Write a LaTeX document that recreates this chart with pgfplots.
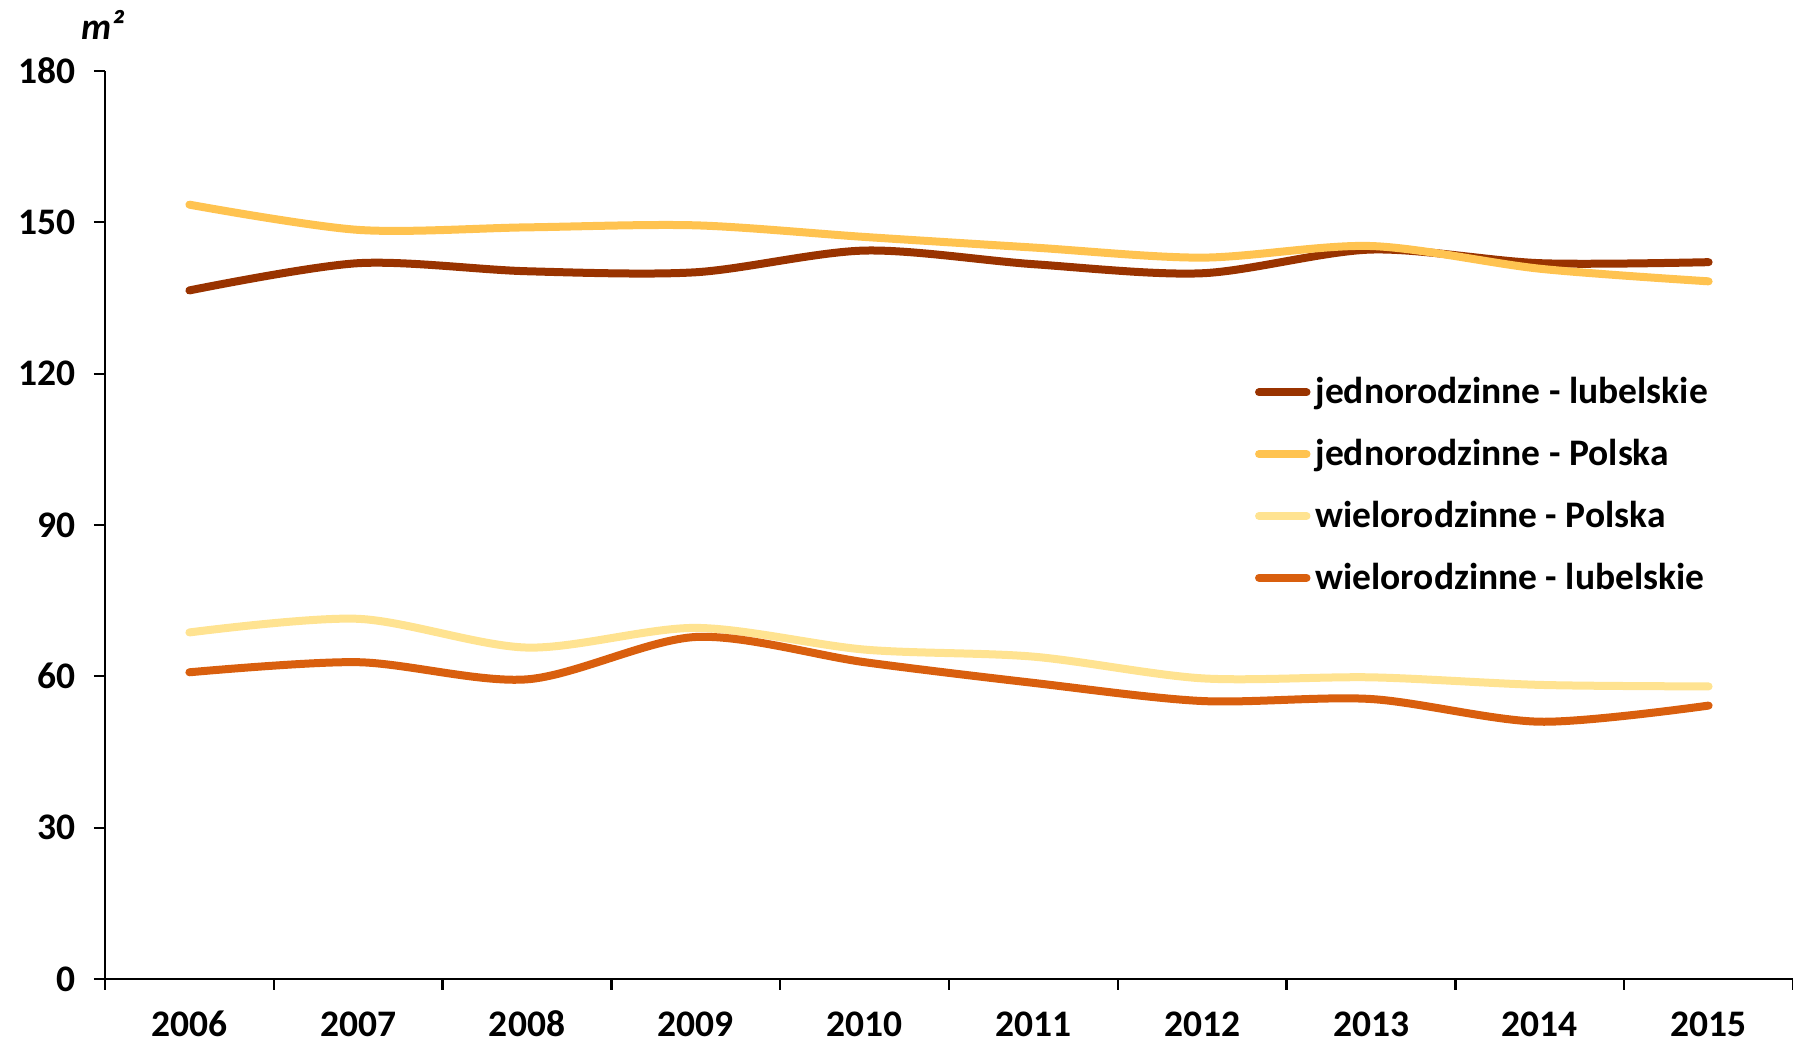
\documentclass[border=0pt]{standalone}
\usepackage{pgfplots}
\pgfplotsset{compat=1.18}
\usepackage{fontspec}
\setmainfont{Carlito}
\definecolor{brJL}{RGB}{153,51,0}
\definecolor{yeJP}{RGB}{255,195,80}
\definecolor{ltWP}{RGB}{255,227,145}
\definecolor{orWL}{RGB}{217,95,14}
\begin{document}
\begin{tikzpicture}
\begin{axis}[
    scale only axis, width=675.2pt, height=363.2pt, clip=false,
    font=\fontsize{15}{18}\selectfont\bfseries,
    /pgf/number format/assume math mode=true,
    axis lines=left, axis line style={-, line width=0.9pt},
    xmin=-0.5, xmax=9.5, ymin=0, ymax=180,
    xtick={-0.5,0.5,1.5,2.5,3.5,4.5,5.5,6.5,7.5,8.5,9.5},
    x tick label as interval,
    xticklabels={2006,2007,2008,2009,2010,2011,2012,2013,2014,2015},
    ytick={0,30,60,90,120,150,180},
    tick align=outside, major tick length=4.4pt,
    tick style={black, line width=0.9pt},
    xticklabel style={anchor=north, text height=10pt, text depth=1pt, yshift=-5pt},
    yticklabel style={xshift=-4pt},
    legend cell align=left,
    legend style={draw=none, fill=none, inner sep=0pt,
        at={(rel axis cs:0.681,0.544)}, anchor=west,
        row sep=8.7pt, font=\fontsize{15}{18}\selectfont\bfseries},
    legend image code/.code={\draw[#1, line width=3.2pt, line cap=round] (0pt,0pt) -- (19pt,0pt);},
    every axis plot/.append style={line width=3.2pt, line cap=round, smooth, tension=0.5, no marks},
]
\addplot[brJL] coordinates {(0,136.5) (1,141.9) (2,140.3) (3,140.1) (4,144.4) (5,141.7) (6,139.9) (7,144.6) (8,141.9) (9,142.1)};
\addlegendentry{jednorodzinne - lubelskie}
\addplot[yeJP] coordinates {(0,153.5) (1,148.5) (2,149.0) (3,149.4) (4,147.1) (5,145.0) (6,143.0) (7,145.3) (8,140.8) (9,138.3)};
\addlegendentry{jednorodzinne - Polska}
\addplot[ltWP] coordinates {(0,68.7) (1,71.4) (2,65.7) (3,69.6) (4,65.3) (5,63.9) (6,59.6) (7,59.8) (8,58.3) (9,58.0)};
\addlegendentry{wielorodzinne - Polska}
\addplot[orWL] coordinates {(0,60.8) (1,62.8) (2,59.4) (3,67.8) (4,62.8) (5,58.7) (6,55.1) (7,55.5) (8,51.0) (9,54.2)};
\addlegendentry{wielorodzinne - lubelskie}
\node[font=\fontsize{15}{18}\selectfont\bfseries\itshape] at (rel axis cs:0,1) [yshift=18.4pt, xshift=-1pt] {m²};
\end{axis}
\pgfresetboundingbox
\path[use as bounding box] ([xshift=-42pt, yshift=-25.2pt]current axis.south west) rectangle ([yshift=28.4pt]current axis.north east);
\end{tikzpicture}
\end{document}
